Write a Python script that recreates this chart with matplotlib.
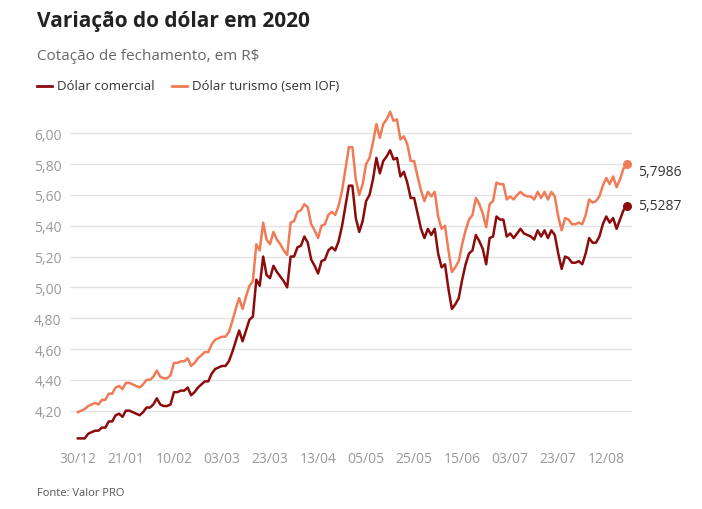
import matplotlib.pyplot as plt
import numpy as np
import pandas as pd

plt.rcParams['font.family'] = ['Open Sans', 'DejaVu Sans']

DARK = '#8c0b0b'
LIGHT = '#f07b56'
GRID = '#e3e3e3'
GRAYTXT = '#999999'

# dias sem pregão
holidays = ['2019-12-31', '2020-01-01', '2020-02-24', '2020-02-25', '2020-04-10',
            '2020-04-21', '2020-05-01', '2020-06-11']
dates = pd.bdate_range('2019-12-30', '2020-08-20')
dates = dates[~dates.isin(pd.to_datetime(holidays))]

comercial = [
    4.02, 4.02,
    # jan
    4.02, 4.05, 4.06, 4.07, 4.07, 4.09, 4.09, 4.13, 4.13, 4.17, 4.18, 4.16, 4.20, 4.20,
    4.19, 4.18, 4.17, 4.19, 4.22, 4.22, 4.24, 4.28,
    # fev
    4.24, 4.23, 4.23, 4.24, 4.32, 4.32, 4.33, 4.33, 4.35, 4.30, 4.32, 4.35, 4.37, 4.39,
    4.39, 4.44, 4.47, 4.48,
    # mar
    4.49, 4.49, 4.52, 4.58, 4.65, 4.72, 4.65, 4.72, 4.79, 4.81, 5.05, 5.01, 5.20, 5.08,
    5.06, 5.14, 5.10, 5.07, 5.04, 5.00, 5.20, 5.20,
    # abr
    5.26, 5.27, 5.33, 5.29, 5.18, 5.14, 5.09, 5.17, 5.18, 5.24, 5.26, 5.24, 5.30, 5.40,
    5.53, 5.66, 5.66, 5.45, 5.36, 5.43,
    # mai
    5.56, 5.60, 5.70, 5.84, 5.74, 5.82, 5.85, 5.89, 5.83, 5.84, 5.72, 5.75, 5.68, 5.58,
    5.58, 5.48, 5.38, 5.32, 5.38, 5.34,
    # jun
    5.38, 5.22, 5.13, 5.15, 4.99, 4.86, 4.89, 4.93, 5.05, 5.15, 5.22, 5.24, 5.34, 5.30,
    5.25, 5.15, 5.32, 5.33, 5.46, 5.44, 5.44,
    # jul
    5.33, 5.35, 5.32, 5.35, 5.38, 5.35, 5.34, 5.33, 5.31, 5.37, 5.33, 5.37, 5.32, 5.37,
    5.34, 5.22, 5.12, 5.20, 5.19, 5.16, 5.16, 5.17, 5.15,
    # ago
    5.22, 5.32, 5.29, 5.29, 5.33, 5.41, 5.46, 5.42, 5.45, 5.38, 5.44, 5.50, 5.5287,
]

turismo = [
    4.19, 4.20,
    4.21, 4.23, 4.24, 4.25, 4.24, 4.27, 4.27, 4.31, 4.31, 4.35, 4.36, 4.34, 4.38, 4.38,
    4.37, 4.36, 4.35, 4.37, 4.40, 4.40, 4.42, 4.46,
    4.42, 4.41, 4.41, 4.43, 4.51, 4.51, 4.52, 4.52, 4.54, 4.49, 4.51, 4.54, 4.56, 4.58,
    4.58, 4.63, 4.66, 4.67,
    4.68, 4.68, 4.71, 4.78, 4.86, 4.93, 4.86, 4.94, 5.01, 5.04, 5.28, 5.24, 5.42, 5.31,
    5.28, 5.36, 5.31, 5.28, 5.24, 5.21, 5.42, 5.43,
    5.49, 5.50, 5.54, 5.52, 5.41, 5.37, 5.32, 5.40, 5.41, 5.47, 5.49, 5.47, 5.53, 5.63,
    5.77, 5.91, 5.91, 5.70, 5.60, 5.67,
    5.80, 5.84, 5.94, 6.06, 5.97, 6.06, 6.09, 6.14, 6.08, 6.09, 5.96, 5.98, 5.93, 5.82,
    5.82, 5.72, 5.63, 5.56, 5.62, 5.59,
    5.62, 5.46, 5.38, 5.40, 5.24, 5.10, 5.13, 5.17, 5.28, 5.37, 5.44, 5.47, 5.58, 5.54,
    5.48, 5.39, 5.54, 5.56, 5.68, 5.67, 5.67,
    5.57, 5.59, 5.57, 5.60, 5.62, 5.60, 5.59, 5.59, 5.57, 5.62, 5.58, 5.62, 5.57, 5.62,
    5.59, 5.46, 5.37, 5.45, 5.44, 5.41, 5.41, 5.42, 5.41,
    5.47, 5.57, 5.55, 5.56, 5.59, 5.66, 5.71, 5.67, 5.72, 5.65, 5.70, 5.77, 5.7986,
]

x = np.arange(len(dates))

fig = plt.figure(figsize=(7.02, 5.10), dpi=100)
ax = fig.add_axes([70 / 702, 66 / 510, 562 / 702, 339 / 510])

ax.plot(x, turismo, color=LIGHT, lw=1.8, zorder=3)
ax.plot(x, comercial, color=DARK, lw=1.8, zorder=4)
ax.scatter([x[-1]], [turismo[-1]], color=LIGHT, s=30, zorder=5)
ax.scatter([x[-1]], [comercial[-1]], color=DARK, s=30, zorder=5)
ax.annotate('5,7986', (x[-1], turismo[-1]), xytext=(8, -5),
            textcoords='offset points', fontsize=10, color='#333333', va='center')
ax.annotate('5,5287', (x[-1], comercial[-1]), xytext=(8, 0),
            textcoords='offset points', fontsize=10, color='#333333', va='center')

tick_idx = list(range(0, len(dates), 14))[:12]
ax.set_xticks(tick_idx)
ax.set_xticklabels([dates[i].strftime('%d/%m') for i in tick_idx])
ax.set_xlim(-2.3, 161.5)

yt = [4.2 + 0.2 * i for i in range(10)]
ax.set_yticks(yt)
ax.set_yticklabels([f'{v:.2f}'.replace('.', ',') for v in yt])
ax.set_ylim(3.99, 6.19)

ax.grid(axis='y', color=GRID, lw=1)
ax.set_axisbelow(True)
for s in ax.spines.values():
    s.set_visible(False)
ax.tick_params(length=0, labelsize=10, colors=GRAYTXT, pad=6)

fig.text(37 / 702, 1 - 22 / 510, 'Variação do dólar em 2020', fontsize=15,
         fontweight='bold', color='#222222', va='center')
fig.text(37 / 702, 1 - 57 / 510, 'Cotação de fechamento, em R$', fontsize=11,
         color='#666666', va='center')
fig.lines.append(plt.Line2D([37 / 702, 52 / 702], [1 - 87 / 510] * 2, color=DARK,
                            lw=2, transform=fig.transFigure))
fig.text(57 / 702, 1 - 87 / 510, 'Dólar comercial', fontsize=9.5, color='#333333',
         va='center')
fig.lines.append(plt.Line2D([172 / 702, 187 / 702], [1 - 87 / 510] * 2, color=LIGHT,
                            lw=2, transform=fig.transFigure))
fig.text(192 / 702, 1 - 87 / 510, 'Dólar turismo (sem IOF)', fontsize=9.5,
         color='#333333', va='center')
fig.text(37 / 702, 1 - 494 / 510, 'Fonte: Valor PRO', fontsize=8, color='#555555',
         va='center')

fig.savefig('out.png', dpi=100, facecolor='white')
